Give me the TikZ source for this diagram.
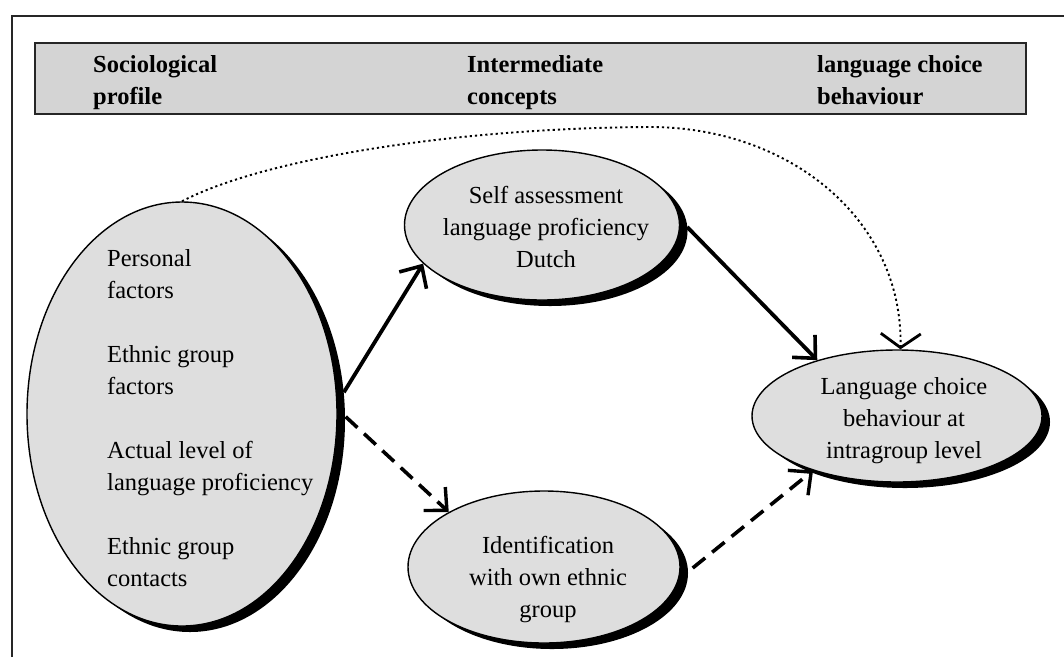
\documentclass[tikz,border=0pt]{standalone}
\usepackage{fontspec}
\setmainfont{Liberation Serif}
\usetikzlibrary{shapes.geometric,arrows.meta,shadows,calc}
\begin{document}
\begin{tikzpicture}[x=1pt,y=-1pt,
  bubble/.style={ellipse, draw=black, line width=1.4pt, fill=black!13, inner sep=0pt,
    drop shadow={shadow xshift=8pt, shadow yshift=-6pt, fill=black, opacity=1}},
  txt/.style={font=\fontsize{24.5}{32}\selectfont, align=center, inner sep=0pt},
  hdr/.style={font=\fontsize{24.5}{32}\selectfont\bfseries, align=left, anchor=north west, inner sep=0pt},
  solidarrow/.style={line width=3.8pt, -{Straight Barb[length=17pt,width=32pt,line width=3.6pt]}},
  dasharrow/.style={line width=3.6pt, dash pattern=on 16pt off 9pt, -{Straight Barb[length=17pt,width=32pt,line width=3.4pt]}},
  dotarrow/.style={line width=1.9pt, dash pattern=on 2.2pt off 3pt, -{Straight Barb[length=14pt,width=40pt,line width=2.8pt]}}
]
\useasboundingbox (0,0) rectangle (1064,657);
% frame
\draw[line width=2.4pt, black!85] (12,657) -- (12,16) -- (1064,16);
% header
\draw[line width=2.2pt, draw=black!85, fill=black!17] (35,43) rectangle (1026,114);
\node[hdr] (h1) at (93,55) {Sociological\\profile};
\node[hdr] (h2) at (467,55) {Intermediate\\concepts};
\node[hdr] (h3) at (817,55) {language choice\\behaviour};
% ellipses
\node[bubble, minimum width=310pt, minimum height=424pt] (soc) at (182,414) {};
\node[bubble, minimum width=275pt, minimum height=150pt] (self) at (542,225) {};
\node[bubble, minimum width=272pt, minimum height=152pt] (ident) at (544,567) {};
\node[bubble, minimum width=290pt, minimum height=132pt] (lang) at (897,416) {};
% texts
\node[txt, align=left, anchor=north west] (soctext) at (107,249)
  {Personal\\factors\\[32pt]Ethnic group\\factors\\[32pt]Actual level of\\language proficiency\\[32pt]Ethnic group\\contacts};
\node[txt] (selftext) at (546,227) {Self assessment\\language proficiency\\Dutch};
\node[txt] (identtext) at (548,580) {Identification\\with own ethnic\\group};
\node[txt] (langtext) at (904,421) {Language choice\\behaviour at\\intragroup level};
% connectors
\draw[solidarrow] ($(soc.8)+(7,0)$) -- (self.198);
\draw[dasharrow] ($(soc.-1)+(8,0)$) -- (ident.150);
\draw[solidarrow] ($(self.east)+(7,2)$) -- (lang.145);
\draw[dasharrow] ($(ident.east)+(12,1)$) -- (lang.213);
\draw[dotarrow] (soc.north) .. controls (260,160) and (450,128) .. (650,127)
  .. controls (790,127) and (903,220) .. (lang.87);
\end{tikzpicture}
\end{document}
